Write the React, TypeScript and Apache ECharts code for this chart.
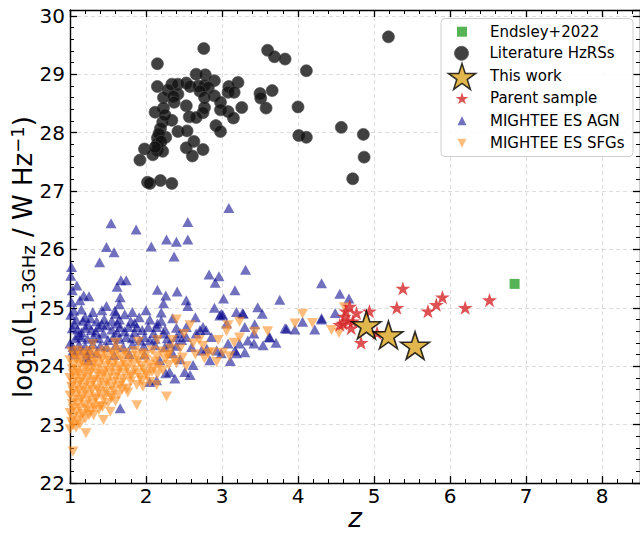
import React, { useEffect, useRef } from "react";
import * as echarts from "echarts";

// ---------- data ----------
const endsley: number[][] = [[6.85, 25.41]];

const thisWork: number[][] = [
  [4.9, 24.68], [5.19, 24.51], [5.54, 24.33],
];

const parentSample: number[][] = [
  [5.38, 25.32], [5.9, 25.17], [5.82, 25.04], [5.71, 24.93], [6.2, 24.99], [6.52, 25.12],
  [5.3, 24.99], [4.68, 25.01], [4.77, 24.9], [4.94, 24.93], [4.61, 24.84], [4.59, 24.72],
  [4.7, 24.64], [4.72, 24.76], [4.66, 24.76], [5.04, 24.56], [4.83, 24.39], [4.63, 24.93],
  [4.55, 24.7],
];

const literature: number[][] = [
  [5.19, 29.64], [2.76, 29.44], [3.6, 29.41], [3.69, 29.3], [3.83, 29.26], [2.15, 29.18],
  [4.11, 29.06], [2.66, 29.0], [2.78, 28.99], [2.9, 28.89], [3.21, 28.86], [2.15, 28.79],
  [2.34, 28.83], [2.42, 28.83], [2.53, 28.85], [2.58, 28.79], [2.69, 28.8], [2.77, 28.81],
  [2.82, 28.77], [3.09, 28.79], [3.08, 28.69], [3.16, 28.69], [2.29, 28.73], [2.42, 28.66],
  [2.71, 28.71], [2.23, 28.6], [2.36, 28.62], [2.37, 28.52], [2.9, 28.63], [2.77, 28.6],
  [3.66, 28.72], [3.5, 28.67], [3.51, 28.59], [2.98, 28.52], [2.53, 28.46], [2.77, 28.43],
  [2.23, 28.42], [2.12, 28.35], [2.98, 28.39], [3.08, 28.36], [3.26, 28.43], [3.58, 28.42],
  [4.0, 28.44], [2.75, 28.34], [3.15, 28.25], [2.57, 28.27], [2.66, 28.26], [2.34, 28.21],
  [2.22, 28.18], [2.19, 28.07], [2.92, 28.12], [2.98, 28.02], [2.42, 28.02], [2.54, 28.03],
  [4.57, 28.09], [4.86, 27.97], [4.01, 27.95], [4.11, 27.92], [2.15, 27.91], [2.26, 27.92],
  [2.15, 27.81], [2.63, 27.85], [2.53, 27.74], [2.75, 27.71], [1.98, 27.72], [2.15, 27.7],
  [2.22, 27.68], [2.09, 27.62], [2.61, 27.6], [4.87, 27.58], [1.92, 27.53], [4.72, 27.21],
  [2.02, 27.15], [2.05, 27.13], [2.19, 27.18], [2.34, 27.13], [2.17, 27.98], [2.2, 27.85],
  [2.12, 27.75], [2.25, 28.3],
];

const mighteeAgn: number[][] = [
  [3.09, 26.71], [1.54, 26.45], [1.87, 26.34], [2.55, 26.47], [2.55, 26.17], [2.27, 26.17],
  [2.4, 26.13], [2.07, 26.05], [1.48, 26.04], [1.58, 25.95], [2.37, 25.88], [1.39, 25.78],
  [1.02, 25.7], [3.31, 25.65], [2.83, 25.57], [2.96, 25.54], [2.91, 25.43], [1.67, 25.47],
  [1.74, 25.47], [1.62, 25.36], [1.09, 25.38], [2.15, 25.31], [3.17, 25.3], [2.41, 25.28],
  [2.26, 25.21], [1.18, 25.21], [1.25, 25.2], [1.13, 25.13], [1.66, 25.18], [1.65, 25.06],
  [1.48, 25.03], [2.23, 25.08], [2.53, 25.13], [2.55, 25.03], [3.02, 25.16], [3.76, 25.14],
  [4.31, 25.42], [4.55, 25.24], [4.67, 25.16], [3.47, 25.01], [2.9, 25.0], [1.2, 24.84],
  [1.59, 24.95], [1.72, 24.89], [1.91, 24.84], [2.65, 24.84], [3.01, 24.88], [3.27, 24.91],
  [3.53, 24.9], [4.31, 24.82], [4.49, 24.91], [4.22, 24.63], [3.83, 24.65], [3.96, 24.63],
  [3.62, 24.5], [3.71, 24.4], [3.3, 24.67], [3.42, 24.56], [3.11, 24.09], [2.99, 24.22],
  [2.86, 24.5], [2.79, 24.62], [2.75, 24.67], [2.66, 24.56], [2.53, 24.5], [2.4, 24.5],
  [2.23, 24.56], [2.14, 24.67], [2.03, 24.67], [1.88, 24.67], [1.77, 24.67], [1.66, 24.67],
  [1.48, 24.7], [1.37, 24.67], [1.11, 24.53], [1.0, 24.39], [1.31, 24.5], [1.44, 24.56],
  [1.57, 24.5], [1.74, 24.5], [1.92, 24.44], [2.05, 24.44], [2.31, 24.39], [2.6, 24.33],
  [2.73, 24.27], [3.23, 24.39], [3.34, 24.44], [3.19, 24.22], [2.84, 24.1], [2.62, 24.02],
  [2.51, 23.9], [2.38, 23.79], [2.26, 23.88], [2.14, 23.76], [2.05, 23.73], [1.66, 23.28],
  [1.24, 24.1], [1.22, 24.22], [1.13, 24.27], [1.04, 24.33],
  [3.19, 24.93], [3.28, 24.9], [2.97, 24.87], [2.99, 24.9], [3.43, 24.72], [3.06, 24.73],
  [3.85, 24.64], [4.06, 24.76], [3.63, 24.49], [3.54, 24.36], [3.42, 24.39], [3.3, 24.24],
  [3.17, 24.27], [2.93, 24.27], [2.8, 24.3], [2.71, 24.62], [2.53, 24.67], [2.58, 23.85],
  [3.08, 24.39], [4.31, 24.8], [2.18, 24.1], [2.31, 23.9], [1.22, 24.16], [1.04, 24.27],
  [1.26, 24.27], [1.48, 24.33], [1.01, 25.55], [1.03, 25.3], [1.02, 25.1], [1.01, 24.88],
  [1.05, 24.95], [1.15, 24.97], [1.3, 24.93], [1.42, 24.96], [1.6, 24.9], [1.82, 24.93],
  [2.0, 24.96], [2.2, 24.92],
  [1.08, 24.8], [1.17, 24.78], [1.27, 24.82], [1.35, 24.77], [1.45, 24.81], [1.55, 24.78],
  [1.65, 24.8], [1.8, 24.77], [2.05, 24.8], [2.2, 24.78], [2.35, 24.82],
  [1.06, 24.72], [1.24, 24.71], [1.42, 24.72], [1.62, 24.73], [1.85, 24.74], [2.15, 24.73],
  [1.03, 24.65], [1.1, 24.63], [1.2, 24.66], [1.28, 24.62], [1.55, 24.63], [1.72, 24.6],
  [1.95, 24.62], [2.25, 24.63], [2.4, 24.66],
  [1.15, 24.58], [1.34, 24.59], [1.62, 24.58], [1.85, 24.58], [2.1, 24.57], [2.45, 24.57],
  [1.07, 24.48], [1.15, 24.5], [1.23, 24.47], [1.38, 24.48], [1.5, 24.45], [1.65, 24.47],
  [1.82, 24.48], [1.98, 24.5], [2.12, 24.47], [2.28, 24.48], [2.47, 24.45],
  [1.12, 24.37], [1.2, 24.34], [1.3, 24.38], [1.4, 24.35], [1.6, 24.36], [1.7, 24.33],
  [1.82, 24.37], [1.97, 24.34], [2.12, 24.36], [2.25, 24.33], [2.4, 24.35],
  [1.06, 24.2], [1.35, 24.22], [1.58, 24.19], [1.78, 24.21], [1.98, 24.2], [2.35, 24.22],
  [2.45, 24.12],
];

const mighteeSfg: number[][] = [
  [4.06, 24.9], [4.19, 24.74], [3.96, 24.73], [3.6, 24.6], [3.43, 24.59], [3.23, 24.76],
  [3.08, 24.7], [3.06, 24.6], [3.23, 24.49], [3.16, 24.4], [2.58, 24.7], [2.77, 24.13],
  [2.93, 24.07], [2.82, 24.22], [2.62, 24.39], [3.01, 24.23], [3.1, 24.17], [2.53, 24.0],
  [2.88, 24.24], [2.4, 24.8], [4.44, 24.62], [4.54, 24.57], [4.61, 25.01], [2.27, 23.48],
  [1.88, 23.33], [1.44, 23.08], [1.21, 22.85], [1.04, 22.54], [1.31, 23.16], [1.53, 23.22],
  [2.05, 23.73], [2.14, 23.68], [1.96, 23.65],
  [2.35, 24.45], [2.45, 24.3], [2.5, 24.55], [2.7, 24.45], [2.65, 24.2], [2.48, 24.15],
  [2.75, 24.35], [2.95, 24.45], [2.4, 24.05], [2.3, 24.2],
  [1.6, 24.4], [1.9, 24.42], [2.15, 24.45], [1.3, 24.38],
  [1.02, 24.25], [1.1, 24.27], [1.18, 24.23], [1.27, 24.26], [1.35, 24.22], [1.45, 24.27],
  [1.55, 24.24], [1.63, 24.28], [1.72, 24.23], [1.85, 24.26], [1.95, 24.22], [2.08, 24.27],
  [2.2, 24.25], [2.32, 24.3],
  [1.06, 24.18], [1.14, 24.17], [1.22, 24.19], [1.31, 24.16], [1.4, 24.18], [1.49, 24.17],
  [1.58, 24.19], [1.67, 24.16], [1.76, 24.18], [1.88, 24.17], [2.0, 24.19], [2.14, 24.17],
  [2.28, 24.18],
  [1.0, 24.1], [1.08, 24.12], [1.15, 24.08], [1.24, 24.11], [1.32, 24.07], [1.42, 24.12],
  [1.5, 24.09], [1.6, 24.11], [1.7, 24.08], [1.8, 24.12], [1.9, 24.09], [2.0, 24.11],
  [2.12, 24.08], [2.25, 24.12], [2.38, 24.1],
  [1.05, 24.02], [1.13, 24.03], [1.21, 24.0], [1.29, 24.02], [1.38, 24.04], [1.47, 24.01],
  [1.56, 24.03], [1.65, 24.0], [1.74, 24.02], [1.84, 24.04], [1.94, 24.01], [2.05, 24.03],
  [2.17, 24.0], [2.3, 24.02],
  [1.03, 23.95], [1.1, 23.93], [1.2, 23.97], [1.28, 23.94], [1.37, 23.96], [1.46, 23.92],
  [1.55, 23.97], [1.65, 23.94], [1.75, 23.96], [1.85, 23.93], [1.97, 23.95], [2.1, 23.97],
  [2.22, 23.93],
  [1.04, 23.87], [1.12, 23.88], [1.19, 23.86], [1.27, 23.89], [1.36, 23.87], [1.44, 23.86],
  [1.53, 23.88], [1.62, 23.87], [1.71, 23.89], [1.8, 23.86], [1.9, 23.88], [2.0, 23.87],
  [2.08, 23.9],
  [1.0, 23.8], [1.07, 23.82], [1.15, 23.78], [1.23, 23.81], [1.32, 23.77], [1.4, 23.82],
  [1.5, 23.79], [1.6, 23.81], [1.7, 23.78], [1.8, 23.82], [1.92, 23.8], [2.02, 23.84],
  [2.15, 23.86],
  [1.04, 23.72], [1.13, 23.73], [1.21, 23.71], [1.3, 23.74], [1.39, 23.72], [1.49, 23.71],
  [1.58, 23.73], [1.68, 23.72], [1.8, 23.74], [1.95, 23.75],
  [1.02, 23.65], [1.1, 23.67], [1.18, 23.63], [1.27, 23.66], [1.36, 23.62], [1.45, 23.67],
  [1.55, 23.64], [1.65, 23.66], [1.75, 23.62], [1.88, 23.68],
  [1.04, 23.57], [1.12, 23.58], [1.2, 23.56], [1.29, 23.59], [1.38, 23.57], [1.48, 23.56],
  [1.58, 23.58], [1.69, 23.6],
  [1.0, 23.5], [1.08, 23.52], [1.16, 23.48], [1.25, 23.51], [1.34, 23.47], [1.44, 23.52],
  [1.54, 23.49], [1.64, 23.51], [1.76, 23.55],
  [1.06, 23.42], [1.15, 23.43], [1.24, 23.41], [1.34, 23.44], [1.44, 23.43], [1.55, 23.45],
  [1.03, 23.35], [1.11, 23.37], [1.2, 23.33], [1.3, 23.36], [1.4, 23.32], [1.5, 23.37],
  [1.6, 23.4],
  [1.04, 23.27], [1.13, 23.28], [1.22, 23.26], [1.32, 23.29], [1.43, 23.3],
  [1.0, 23.2], [1.08, 23.22], [1.17, 23.18], [1.27, 23.23], [1.38, 23.25],
  [1.04, 23.12], [1.14, 23.14], [1.25, 23.16],
  [1.02, 23.05], [1.1, 23.07], [1.2, 23.1],
  [1.04, 22.99], [1.13, 23.0],
  [1.0, 22.92], [1.08, 22.95],
];

const xTicks = { min: 1, max: 8.5, major: 1, minor: 0.2 };
const yTicks = { min: 22, max: 30.1, major: 1, minor: 0.2 };

const names = {
  endsley: "Endsley+2022",
  lit: "Literature HzRSs",
  work: "This work",
  parent: "Parent sample",
  agn: "MIGHTEE ES AGN",
  sfg: "MIGHTEE ES SFGs",
};

const xTitle = "z";
const yTitle = "{m|log}{s|10}{m|(L}{s|1.3GHz}{m| / W Hz}{p|−1}{m|)}";

// ---------- symbols ----------
const STAR =
  "path://M0,-100L22.45,-30.9L95.1,-30.9L36.3,11.8L58.8,80.9L0,38.2L-58.8,80.9L-36.3,11.8L-95.1,-30.9L-22.45,-30.9Z";
const TRI_UP = "path://M0,-10L10,10L-10,10Z";
const TRI_DOWN = "path://M-10,-10L10,-10L0,10Z";
const SQUARE = "path://M0,0L10,0L10,10L0,10Z";

const FONT = "DejaVu Sans";
const BLUE = "rgba(0,0,139,0.7)";
const ORANGE = "rgba(255,140,30,0.72)";

function axisPair(pos: string, isX: boolean, withLabels: boolean) {
  const t = isX ? xTicks : yTicks;
  const major: any = {
    type: "value",
    position: pos,
    min: t.min,
    max: t.max,
    interval: t.major,
    axisLine: { show: true, onZero: false, lineStyle: { color: "#000", width: 1.4 } },
    axisTick: { show: true, inside: true, length: 7, lineStyle: { color: "#000", width: 1.3 } },
    axisLabel: withLabels
      ? { show: true, fontSize: 20, color: "#000", fontFamily: FONT, margin: isX ? 3 : 5, showMaxLabel: false }
      : { show: false },
    splitLine: withLabels
      ? { show: true, lineStyle: { color: "#d4d4d4", type: [4, 3], width: 0.8 } }
      : { show: false },
  };
  const minor: any = {
    type: "value",
    position: pos,
    min: t.min,
    max: t.max,
    interval: t.minor,
    axisLine: { show: false },
    axisTick: { show: true, inside: true, length: 4, lineStyle: { color: "#000", width: 1 } },
    axisLabel: { show: false },
    splitLine: { show: false },
  };
  return [major, minor];
}

// iconW: drawn width of the icon, so the icon centre lands at x=462 and the text at x=490
function legendFor(name: string, icon: string, h: number, iconW: number, cy: number, itemStyle: any) {
  const boxH = Math.max(h, 16);
  return {
    show: true,
    selectedMode: false,
    orient: "horizontal",
    left: 462 - iconW / 2,
    top: cy - boxH / 2,
    padding: 0,
    itemWidth: 46,
    itemHeight: h,
    symbolKeepAspect: true,
    z: 10,
    textStyle: { fontSize: 15, color: "#000", fontFamily: FONT, lineHeight: 16 },
    data: [{ name, icon, itemStyle }],
  };
}

export default function App() {
  const ref = useRef<HTMLDivElement>(null);
  useEffect(() => {
    if (!ref.current) return;
    const chart = echarts.init(ref.current, undefined, { renderer: "svg" });
    const [xb, xbm] = axisPair("bottom", true, true);
    const [xt, xtm] = axisPair("top", true, false);
    const [yl, ylm] = axisPair("left", false, true);
    const [yr, yrm] = axisPair("right", false, false);

    const starOff = (h: number) => [0, -0.053 * h];

    const option: any = {
      animation: false,
      textStyle: { fontFamily: FONT },
      grid: { left: 70, top: 10, right: 0, bottom: 51, containLabel: false, outerBoundsMode: "none" },
      xAxis: [xb, xbm, xt, xtm],
      yAxis: [yl, ylm, yr, yrm],
      legend: [
        legendFor(names.endsley, SQUARE, 10, 10, 31.7, { color: "#2ca02c" }),
        legendFor(names.lit, "circle", 14, 16, 53.3, { color: "#111", borderColor: "#555", borderWidth: 1 }),
        legendFor(names.work, STAR, 26, 28.8, 75.7, { color: "#DAA520", borderColor: "#000", borderWidth: 1.5 }),
        legendFor(names.parent, STAR, 12, 12.6, 98.3, { color: "#d62728", borderWidth: 0 }),
        legendFor(names.agn, TRI_UP, 9, 9, 120.7, { color: BLUE, borderWidth: 0 }),
        legendFor(names.sfg, TRI_DOWN, 9, 9, 143.3, { color: ORANGE, borderWidth: 0 }),
      ],
      graphic: [
        {
          type: "rect",
          z: 5,
          silent: true,
          shape: { x: 441, y: 18.5, width: 192, height: 138, r: 4 },
          style: { fill: "rgba(255,255,255,0.85)", stroke: "#cfcfcf", lineWidth: 1 },
        },
        {
          type: "text",
          z: 6,
          silent: true,
          x: 355,
          y: 518,
          style: {
            text: xTitle,
            fontSize: 26,
            fontStyle: "italic",
            fontFamily: FONT,
            fill: "#000",
            align: "center",
            verticalAlign: "middle",
          },
        },
        {
          type: "text",
          z: 6,
          silent: true,
          x: 23,
          y: 257,
          rotation: Math.PI / 2,
          style: {
            text: yTitle,
            fill: "#000",
            fontFamily: FONT,
            align: "center",
            verticalAlign: "middle",
            rich: {
              m: { fontSize: 26, lineHeight: 29, fontFamily: FONT, fill: "#000" },
              s: { fontSize: 18, lineHeight: 15, verticalAlign: "bottom", fontFamily: FONT, fill: "#000" },
              p: { fontSize: 18, lineHeight: 15, verticalAlign: "top", fontFamily: FONT, fill: "#000" },
            },
          },
        },
      ],
      series: [
        {
          name: names.agn,
          type: "scatter",
          silent: true,
          data: mighteeAgn,
          symbol: TRI_UP,
          symbolSize: [11, 10],
          itemStyle: { color: BLUE },
          z: 2,
        },
        {
          name: names.sfg,
          type: "scatter",
          silent: true,
          data: mighteeSfg,
          symbol: TRI_DOWN,
          symbolSize: [11, 10],
          itemStyle: { color: ORANGE },
          z: 2,
        },
        {
          name: names.lit,
          type: "scatter",
          silent: true,
          data: literature,
          symbol: "circle",
          symbolSize: 12,
          itemStyle: { color: "#111", borderColor: "#4a4a4a", borderWidth: 0.8 },
          z: 2,
        },
        {
          name: names.parent,
          type: "scatter",
          silent: true,
          data: parentSample,
          symbol: STAR,
          symbolSize: [15, 14.3],
          symbolOffset: starOff(14.3),
          itemStyle: { color: "#d62728" },
          z: 2,
        },
        {
          name: names.work,
          type: "scatter",
          silent: true,
          data: thisWork,
          symbol: STAR,
          symbolSize: [29, 27.6],
          symbolOffset: starOff(27.6),
          itemStyle: { color: "#DAA520", borderColor: "#000", borderWidth: 1.6 },
          z: 3,
        },
        {
          name: names.endsley,
          type: "scatter",
          silent: true,
          data: endsley,
          symbol: SQUARE,
          symbolSize: 10,
          itemStyle: { color: "#2ca02c" },
          z: 3,
        },
      ],
    };
    chart.setOption(option);
    return () => chart.dispose();
  }, []);
  return (
    <div
      ref={ref}
      style={{ position: "fixed", left: 0, top: 0, width: 640, height: 534, background: "#fff" }}
    />
  );
}
